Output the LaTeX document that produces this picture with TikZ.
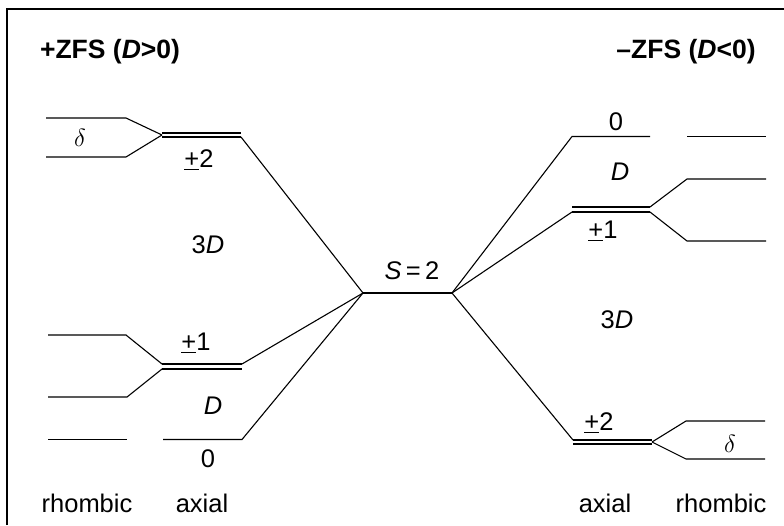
\documentclass[tikz,border=0pt]{standalone}
\usepackage{fontspec}
\setmainfont{Liberation Sans}
\newcommand{\pmsign}{\underline{+}}
\begin{document}
\begin{tikzpicture}[x=1pt,y=-1pt,
  lvl/.style={line width=1.1pt},
  dbl/.style={line width=1.1pt},
  lbl/.style={font=\fontsize{25.5}{29}\selectfont, inner sep=0pt},
  ttl/.style={font=\fontsize{26.5}{30}\selectfont\bfseries, inner sep=0pt}]
\useasboundingbox (0,0) rectangle (784,525);
\draw[line width=1.4pt] (7,525) -- (7,9) -- (784,9);
% titles
\node[ttl] (tl) at (110,52) {+ZFS (\textit{D}>0)};
\node[ttl] (tr) at (686,52) {–ZFS (\textit{D}<0)};
% center
\coordinate (C1) at (363,293);
\coordinate (C2) at (452,293);
\draw[lvl] (C1) -- (C2);
\node[lbl] (s2) at (412,271) {\textit{S}\,=\,2};
% ---- left side ----
% +-2
\coordinate (LA2s) at (162,135);
\draw[lvl] (46,118) coordinate (r2a) -- (126,118) coordinate (r2b) -- (LA2s);
\draw[lvl] (46,157) coordinate (r2c) -- (126,157) coordinate (r2d) -- (LA2s);
\draw[dbl] (162,133) coordinate (a2u) -- (241,133) coordinate (a2ue);
\draw[dbl] (162,137) coordinate (a2l) -- (241,137) coordinate (a2le);
\draw[lvl] (a2le) -- (C1);
\node[lbl] (delL) at (80,138) {$\delta$};
\node[lbl] (pm2L) at (199,160) {\pmsign2};
\node[lbl] (3DL) at (208,245) {3\textit{D}};
% +-1
\draw[dbl] (162,364) coordinate (a1u) -- (242,364) coordinate (a1ue);
\draw[dbl] (162,369) coordinate (a1l) -- (242,369) coordinate (a1le);
\draw[lvl] (48,335) coordinate (r1a) -- (126,335) coordinate (r1b) -- (a1u);
\draw[lvl] (48,397) coordinate (r1c) -- (127,397) coordinate (r1d) -- (a1l);
\draw[lvl] (a1ue) -- (C1);
\node[lbl] (pm1L) at (196,343) {\pmsign1};
\node[lbl] (DL) at (213,406) {\textit{D}};
% 0
\draw[lvl] (48,439.5) coordinate (r0a) -- (127,439.5) coordinate (r0b);
\draw[lvl] (163,439.5) coordinate (a0a) -- (242,439.5) coordinate (a0b) -- (C1);
\node[lbl] (0L) at (208,459) {0};
\node[lbl] (rhL) at (87,503) {rhombic};
\node[lbl] (axL) at (202,503) {axial};
% ---- right side ----
% 0
\draw[lvl] (C2) -- (572,136.5) coordinate (b0a) -- (650,136.5) coordinate (b0b);
\draw[lvl] (687,136.5) coordinate (q0a) -- (766,136.5) coordinate (q0b);
\node[lbl] (0R) at (616,122) {0};
\node[lbl] (DR) at (620,172) {\textit{D}};
% +-1
\draw[dbl] (572,207) coordinate (b1u) -- (650,207) coordinate (b1ue);
\draw[dbl] (572,212) coordinate (b1l) -- (650,212) coordinate (b1le);
\draw[lvl] (C2) -- (b1l);
\draw[lvl] (b1ue) -- (687,179) coordinate (q1a) -- (766,179) coordinate (q1b);
\draw[lvl] (b1le) -- (687,241) coordinate (q1c) -- (766,241) coordinate (q1d);
\node[lbl] (pm1R) at (603,231) {\pmsign1};
\node[lbl] (3DR) at (617,320) {3\textit{D}};
% +-2
\draw[dbl] (573,440) coordinate (b2u) -- (652,440) coordinate (b2ue);
\draw[dbl] (573,444) coordinate (b2l) -- (652,444) coordinate (b2le);
\draw[lvl] (C2) -- (b2u);
\coordinate (RA2s) at (652,442);
\draw[lvl] (RA2s) -- (686,421) coordinate (q2a) -- (765,421) coordinate (q2b);
\draw[lvl] (RA2s) -- (686,459) coordinate (q2c) -- (765,459) coordinate (q2d);
\node[lbl] (delR) at (730,444) {$\delta$};
\node[lbl] (pm2R) at (599,423) {\pmsign2};
\node[lbl] (axR) at (605,503) {axial};
\node[lbl] (rhR) at (721,503) {rhombic};
\end{tikzpicture}
\end{document}
